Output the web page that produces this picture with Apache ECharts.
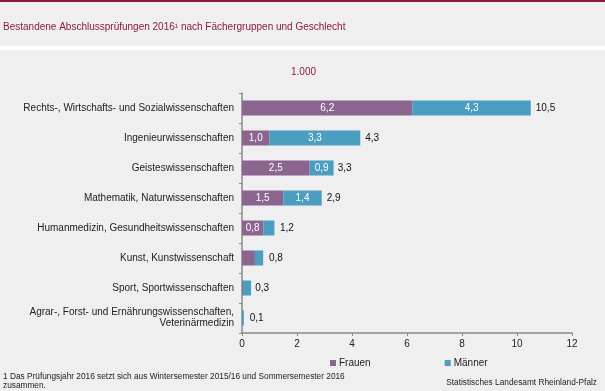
<!DOCTYPE html>
<html>
<head>
<meta charset="utf-8">
<script src="https://cdn.jsdelivr.net/npm/echarts@6/dist/echarts.min.js"></script>
<style>
html,body{margin:0;padding:0;background:#eeefee;}
#c{width:605px;height:391px;}
</style>
</head>
<body>
<div id="c"></div>
<script>
const categories = [
  "Rechts-, Wirtschafts- und Sozialwissenschaften",
  "Ingenieurwissenschaften",
  "Geisteswissenschaften",
  "Mathematik, Naturwissenschaften",
  "Humanmedizin, Gesundheitswissenschaften",
  "Kunst, Kunstwissenschaft",
  "Sport, Sportwissenschaften",
  "Agrar-, Forst- und Ernährungswissenschaften,\nVeterinärmedizin"
];
const frauen = [6.2, 1.0, 2.46, 1.5, 0.78, 0.47, 0.03, 0.0];
const maenner = [4.3, 3.3, 0.87, 1.4, 0.4, 0.3, 0.3, 0.07];
const gesamt = [10.5, 4.3, 3.3, 2.9, 1.2, 0.8, 0.3, 0.1];
const xTicks = [0, 2, 4, 6, 8, 10, 12];

const fmt = v => Number(v).toFixed(1).replace('.', ',');
const FONT = '"Liberation Sans", Arial, sans-serif';

const chart = echarts.init(document.getElementById('c'), null, {renderer: 'canvas'});
chart.setOption({
  backgroundColor: '#eeefee',
  animation: false,
  textStyle: {fontFamily: FONT},
  graphic: [
    {type: 'rect', left: 0, top: 0, shape: {width: 605, height: 2}, style: {fill: '#8c1d38'}},
    {type: 'rect', left: 0, top: 46, shape: {width: 605, height: 4}, style: {fill: '#ffffff'}},
    {type: 'text', left: 3, top: 22, style: {text: 'Bestandene Abschlussprüfungen 2016¹ nach Fächergruppen und Geschlecht', fill: '#8c1d38', font: '10px ' + FONT}},
    {type: 'text', left: 291, top: 67, style: {text: '1.000', fill: '#8c1d38', font: '10px ' + FONT}},
    {type: 'text', left: 3, top: 372, style: {text: '1 Das Prüfungsjahr 2016 setzt sich aus Wintersemester 2015/16 und Sommersemester 2016\nzusammen.', fill: '#222', font: '8.3px ' + FONT, lineHeight: 9}},
    {type: 'text', right: 8, top: 379, style: {text: 'Statistisches Landesamt Rheinland-Pfalz', fill: '#222', font: '8.3px ' + FONT}}
  ],
  legend: {
    data: ['Frauen', 'Männer'],
    left: 325, top: 353,
    itemWidth: 6, itemHeight: 6, itemGap: 74,
    icon: 'rect',
    textStyle: {fontSize: 10, color: '#222', fontFamily: FONT, padding: [0, 0, 0, -2]}
  },
  grid: {left: 242, right: 33, top: 93, bottom: 58, containLabel: false},
  xAxis: {
    type: 'value', min: 0, max: 12, interval: 2,
    axisLine: {show: true, lineStyle: {color: '#8a8a8a', width: 1.5}},
    axisTick: {show: true, length: 3, lineStyle: {color: '#8a8a8a'}},
    splitLine: {show: false},
    axisLabel: {fontSize: 10, color: '#222', margin: 6, fontFamily: FONT,
      formatter: v => xTicks.includes(v) ? String(v) : ''}
  },
  yAxis: {
    type: 'category', data: categories, inverse: true,
    axisLine: {show: true, lineStyle: {color: '#8a8a8a', width: 1.5}},
    axisTick: {show: true, length: 3, lineStyle: {color: '#8a8a8a'}},
    axisLabel: {fontSize: 10, color: '#222', margin: 8, fontFamily: FONT, align: 'right', lineHeight: 11}
  },
  series: [
    {
      name: 'Frauen', type: 'bar', stack: 'a', barWidth: 15, data: frauen,
      itemStyle: {color: '#8b6590'},
      label: {show: true, position: 'inside', color: '#fff', fontSize: 10, fontFamily: FONT,
        formatter: p => p.value >= 0.6 ? fmt(p.value) : ''}
    },
    {
      name: 'Männer', type: 'bar', stack: 'a', barWidth: 15, data: maenner,
      itemStyle: {color: '#4c9ec1'},
      label: {show: true, position: 'inside', color: '#fff', fontSize: 10, fontFamily: FONT,
        formatter: p => p.value >= 0.6 ? fmt(p.value) : ''}
    },
    {
      name: 'Gesamt', type: 'bar', barWidth: 15, barGap: '-100%', data: gesamt,
      itemStyle: {color: 'rgba(0,0,0,0)'}, silent: true, z: 1,
      label: {show: true, position: 'right', distance: 5, color: '#111', fontSize: 10, fontFamily: FONT,
        formatter: p => fmt(p.value)}
    }
  ]
});
</script>
</body>
</html>
